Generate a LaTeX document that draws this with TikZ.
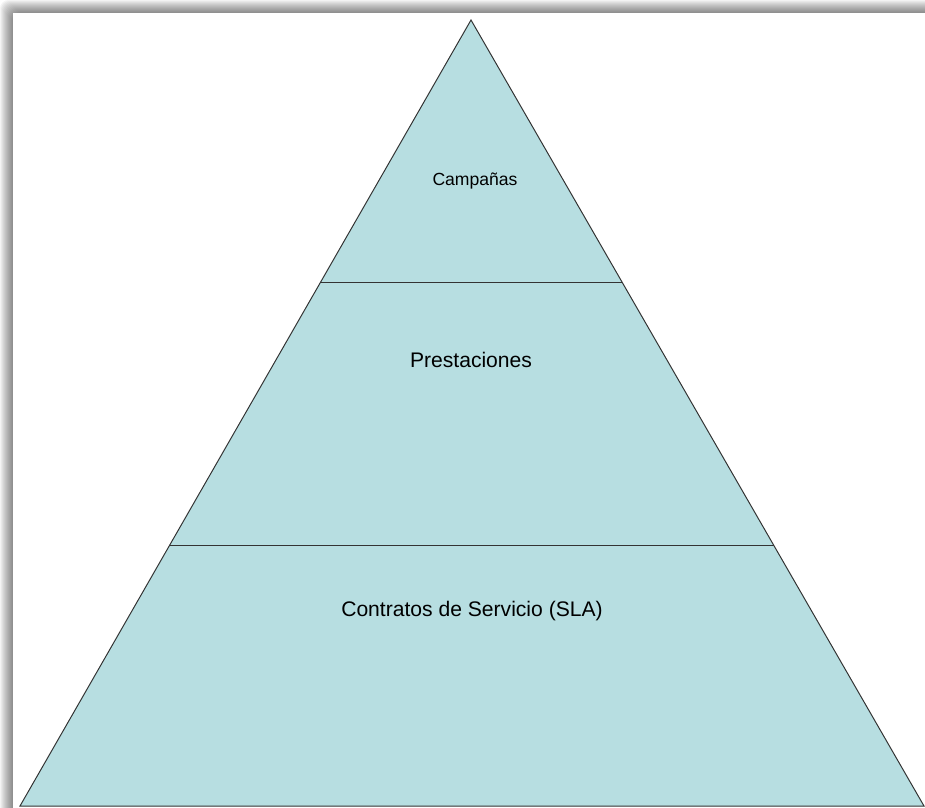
\documentclass[tikz,border=0pt]{standalone}
\usepackage{fontspec}
\setmainfont{Liberation Sans}
\usepackage{tikz}
\usetikzlibrary{calc}

\definecolor{pyrfill}{HTML}{B7DEE1}
\definecolor{pyrline}{HTML}{333333}

\begin{document}
\begin{tikzpicture}[x=0.025cm, y=-0.025cm,
level/.style={draw=pyrline, line width=0.7pt},
label/.style={inner sep=0pt, text=black, font=\fontsize{15}{18}\selectfont},
small label/.style={label, font=\fontsize{12.5}{15}\selectfont}]
\useasboundingbox (0,0) rectangle (925,807);

% shadow round the page
\foreach \i in {0,...,12}
	\fill[black, opacity=0.045, rounded corners=6] (\i,\i) rectangle (960,840);
\fill[white] (13,13) rectangle (960,840);

% the pyramid
\coordinate (apex) at (471,20);
\coordinate (bl) at (20,806);
\coordinate (br) at (924,806);
\coordinate (l1) at ($(apex)!0.3338!(bl)$);
\coordinate (r1) at ($(apex)!0.3338!(br)$);
\coordinate (l2) at ($(apex)!0.6688!(bl)$);
\coordinate (r2) at ($(apex)!0.6688!(br)$);

\filldraw[level, fill=pyrfill] (apex) -- (bl) -- (br) -- cycle;
\draw[level] (l1) -- (r1);
\draw[level] (l2) -- (r2);

\node[small label] (campanas) at (475,181) {Campañas};
\node[label] (prestaciones) at (471,360) {Prestaciones};
\node[label] (contratos) at (472,611) {Contratos de Servicio (SLA)};

\end{tikzpicture}
\end{document}
